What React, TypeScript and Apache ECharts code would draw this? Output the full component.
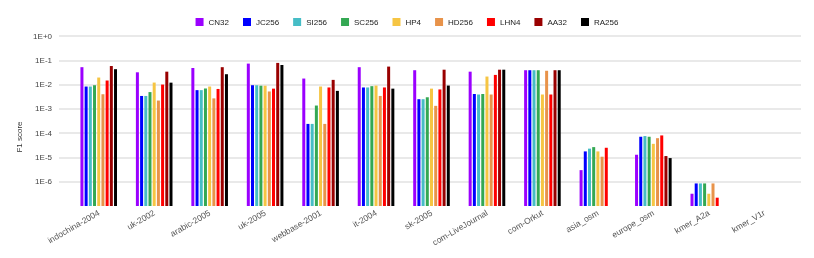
import React, { useEffect, useRef } from "react";
import * as echarts from "echarts";

const categories = [
  "indochina-2004", "uk-2002", "arabic-2005", "uk-2005", "webbase-2001", "it-2004",
  "sk-2005", "com-LiveJournal", "com-Orkut", "asia_osm", "europe_osm", "kmer_A2a", "kmer_V1r",
];

const seriesNames = ["CN32", "JC256", "SI256", "SC256", "HP4", "HD256", "LHN4", "AA32", "RA256"];
const seriesColors = ["#9b00ff", "#0000ff", "#46bdc6", "#34a853", "#f6c543", "#e8934a", "#ff0000", "#990000", "#000000"];

const CN32 = [0.052, 0.032, 0.048, 0.073, 0.0177, 0.052, 0.039, 0.034, 0.039, 3.0e-6, 1.29e-5, 3.2e-7, null];
const JC256 = [0.0083, 0.0034, 0.0059, 0.0094, 0.00024, 0.0076, 0.0025, 0.0041, 0.039, 1.77e-5, 7.1e-5, 8.5e-7, null];
const SI256 = [0.0083, 0.0034, 0.0059, 0.0094, 0.00024, 0.0076, 0.0025, 0.0039, 0.039, 2.3e-5, 7.6e-5, 8.5e-7, null];
const SC256 = [0.0094, 0.0049, 0.0069, 0.009, 0.00137, 0.0086, 0.003, 0.0041, 0.039, 2.66e-5, 7.1e-5, 8.5e-7, null];
const HP4 = [0.0195, 0.0121, 0.0083, 0.009, 0.0083, 0.0091, 0.0068, 0.0214, 0.0039, 1.77e-5, 3.63e-5, 3.2e-7, null];
const HD256 = [0.004, 0.0022, 0.0027, 0.0052, 0.00024, 0.0034, 0.00133, 0.0039, 0.037, 1.07e-5, 6.2e-5, 8.5e-7, null];
const LHN4 = [0.0147, 0.01, 0.0066, 0.0068, 0.0076, 0.0076, 0.0063, 0.025, 0.0039, 2.5e-5, 8.05e-5, 2.2e-7, null];
const AA32 = [0.058, 0.034, 0.052, 0.078, 0.0156, 0.055, 0.041, 0.041, 0.039, null, 1.14e-5, null, null];
const RA256 = [0.043, 0.012, 0.0267, 0.064, 0.0055, 0.0068, 0.0091, 0.041, 0.039, null, 9.4e-6, null, null];

const seriesValues = [CN32, JC256, SI256, SC256, HP4, HD256, LHN4, AA32, RA256];

const yMin = 1e-7;
const yMax = 1;
const yTitle = "F1 score";

function fmt(v: number): string {
  const e = Math.round(Math.log10(v));
  if (e <= -7) return "";
  return "1E" + (e >= 0 ? "+" : "-") + Math.abs(e);
}

export default function App() {
  const ref = useRef<HTMLDivElement>(null);
  useEffect(() => {
    if (!ref.current) return;
    const chart = echarts.init(ref.current, null, { renderer: "svg" });
    const font = "Arial, 'Liberation Sans', sans-serif";
    chart.setOption({
      animation: false,
      textStyle: { fontFamily: font },
      legend: {
        data: seriesNames,
        top: 13,
        left: "center",
        itemWidth: 8,
        itemHeight: 8,
        itemGap: 14,
        icon: "rect",
        textStyle: { fontSize: 8, color: "#222", fontFamily: font },
      },
      grid: [
        { left: 59, right: 13, top: 36, bottom: 52 },
        { left: 71, right: 22, top: 36, bottom: 52 },
      ],
      xAxis: [
        { type: "value", gridIndex: 0, show: false, min: 0, max: 1 },
        {
          type: "category",
          gridIndex: 1,
          data: categories,
          axisLine: { show: false },
          axisTick: { show: false },
          axisLabel: { rotate: 30, fontSize: 8.5, color: "#555", margin: 6, interval: 0, fontFamily: font },
        },
      ],
      yAxis: [
        {
          type: "log",
          gridIndex: 0,
          logBase: 10,
          min: yMin,
          max: yMax,
          axisLine: { show: false },
          axisTick: { show: false },
          axisLabel: { formatter: fmt, fontSize: 8, color: "#444", margin: 7, fontFamily: font },
          splitLine: {
            show: true,
            lineStyle: {
              width: 1.5,
              color: ["rgba(0,0,0,0)", "#e2e2e2", "#e2e2e2", "#e2e2e2", "#e2e2e2", "#e2e2e2", "#e2e2e2", "#e2e2e2"],
            },
          },
        },
        {
          type: "log",
          gridIndex: 1,
          logBase: 10,
          min: yMin,
          max: yMax,
          startValue: yMin,
          show: false,
          splitLine: { show: false },
        },
      ],
      series: seriesNames.map((name, i) => ({
        name,
        type: "bar",
        xAxisIndex: 1,
        yAxisIndex: 1,
        data: seriesValues[i],
        barWidth: 3,
        barGap: "40%",
        itemStyle: { color: seriesColors[i] },
      })),
      graphic: [
        {
          type: "text",
          x: 19,
          y: 137,
          rotation: Math.PI / 2,
          style: {
            text: yTitle,
            fontSize: 8,
            fill: "#333",
            fontFamily: font,
            align: "center",
            verticalAlign: "middle",
          },
        },
      ],
    });
    return () => chart.dispose();
  }, []);
  return <div ref={ref} style={{ position: "fixed", left: 0, top: 0, width: 814, height: 258 }} />;
}
